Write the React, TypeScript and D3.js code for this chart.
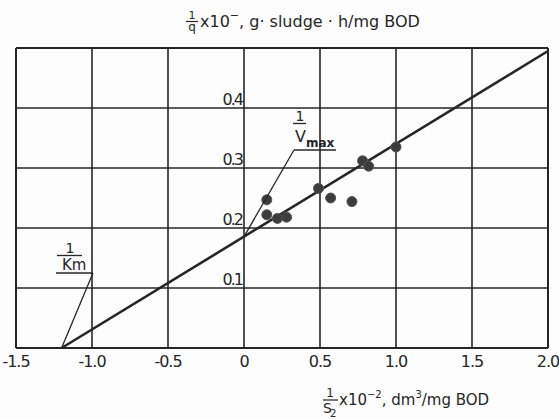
import * as d3 from "d3";
import React, { useEffect, useRef } from "react";

// axis ticks
const xTicks = [-1.5, -1.0, -0.5, 0, 0.5, 1.0, 1.5, 2.0];
const xTickLabels = ["-1.5", "-1.0", "-0.5", "0", "0.5", "1.0", "1.5", "2.0"];
const yTicks = [0.1, 0.2, 0.3, 0.4];
const yTickLabels = ["0.1", "0.2", "0.3", "0.4"];

// measured points: 1/S2 (x 10^-2) vs 1/q
const invS = [1.0, 0.78, 0.82, 0.49, 0.57, 0.71, 0.15, 0.15, 0.22, 0.28];
const invQ = [0.335, 0.312, 0.303, 0.266, 0.25, 0.244, 0.247, 0.222, 0.216, 0.218];

// fitted Lineweaver-Burk line, from -1/Km to the right edge
const fitX = [-1.2, 2.0];
const fitY = [0, 0.495];

const W = 559;
const H = 419;
const FONT = "'DejaVu Sans', sans-serif";
const INK = "#262626";

export default function App() {
  const svgRef = useRef<SVGSVGElement>(null);

  useEffect(() => {
    const svg = d3.select(svgRef.current);
    svg.selectAll("*").remove();

    const x = d3.scaleLinear().domain([-1.5, 2.0]).range([16, 548]);
    const y = d3.scaleLinear().domain([0, 0.5]).range([348, 48]);
    const fit = d3.scaleLinear().domain(fitX).range(fitY);

    svg.append("rect").attr("width", W).attr("height", H).attr("fill", "#fdfdfd");

    // grid
    const g = svg.append("g").attr("stroke", INK).attr("fill", "none");
    g.selectAll("line.vx")
      .data(xTicks)
      .enter()
      .append("line")
      .attr("x1", (d) => x(d))
      .attr("x2", (d) => x(d))
      .attr("y1", y(0.5))
      .attr("y2", y(0))
      .attr("stroke-width", (d, i) => (i === 0 || i === xTicks.length - 1 ? 2 : 1.6));
    g.selectAll("line.hy")
      .data([0, ...yTicks, 0.5])
      .enter()
      .append("line")
      .attr("x1", x(-1.5))
      .attr("x2", x(2.0))
      .attr("y1", (d) => y(d))
      .attr("y2", (d) => y(d))
      .attr("stroke-width", (d) => (d === 0 || d === 0.5 ? 2 : 1.6));

    // x tick labels
    svg.selectAll("text.xt")
      .data(xTicks)
      .enter()
      .append("text")
      .attr("x", (d) => x(d))
      .attr("y", y(0) + 19)
      .attr("text-anchor", "middle")
      .attr("font-family", FONT)
      .attr("font-size", 16)
      .attr("letter-spacing", -1)
      .attr("fill", INK)
      .text((d, i) => xTickLabels[i]);

    // y tick labels, left of the zero line
    svg.selectAll("text.yt")
      .data(yTicks)
      .enter()
      .append("text")
      .attr("x", x(0) - 2)
      .attr("y", (d) => y(d) - 3)
      .attr("text-anchor", "end")
      .attr("font-family", FONT)
      .attr("font-size", 16)
      .attr("letter-spacing", -2)
      .attr("fill", INK)
      .text((d, i) => yTickLabels[i]);

    // regression line
    svg.append("line")
      .attr("x1", x(fitX[0]))
      .attr("y1", y(fitY[0]))
      .attr("x2", x(fitX[1]))
      .attr("y2", y(fitY[1]))
      .attr("stroke", INK)
      .attr("stroke-width", 2.6);

    // points
    svg.selectAll("circle")
      .data(invS)
      .enter()
      .append("circle")
      .attr("cx", (d) => x(d))
      .attr("cy", (d, i) => y(invQ[i]))
      .attr("r", 5)
      .attr("fill", "#3c3c3c")
      .attr("stroke", "#555")
      .attr("stroke-width", 1);

    // 1/Vmax label and leader
    const lead = svg.append("g").attr("stroke", INK).attr("stroke-width", 1.3).attr("fill", "none");
    lead.append("line").attr("x1", 293).attr("x2", 306).attr("y1", 123.5).attr("y2", 123.5);
    lead.append("line").attr("x1", 294).attr("x2", 336).attr("y1", 150).attr("y2", 150);
    lead.append("line").attr("x1", 294).attr("y1", 150).attr("x2", x(0)).attr("y2", y(fit(0)));
    svg.append("text").attr("x", 300).attr("y", 121).attr("text-anchor", "middle")
      .attr("font-family", FONT).attr("font-size", 14).attr("fill", INK).text("1");
    const vm = svg.append("text").attr("x", 295).attr("y", 142)
      .attr("font-family", FONT).attr("font-size", 16).attr("fill", INK);
    vm.append("tspan").text("V");
    vm.append("tspan").attr("dy", 5).attr("font-size", 12).attr("font-weight", "bold").text("max");

    // 1/Km label and leader
    lead.append("line").attr("x1", 57).attr("x2", 82).attr("y1", 255.5).attr("y2", 255.5);
    lead.append("line").attr("x1", 56).attr("x2", 93).attr("y1", 273).attr("y2", 273);
    lead.append("line").attr("x1", 93).attr("y1", 273).attr("x2", x(fitX[0])).attr("y2", y(0));
    svg.append("text").attr("x", 70).attr("y", 253).attr("text-anchor", "middle")
      .attr("font-family", FONT).attr("font-size", 14).attr("fill", INK).text("1");
    svg.append("text").attr("x", 62).attr("y", 270)
      .attr("font-family", FONT).attr("font-size", 15).attr("fill", INK).text("Km");

    // top axis title
    svg.append("text").attr("x", 192).attr("y", 18.5).attr("text-anchor", "middle")
      .attr("font-family", FONT).attr("font-size", 11).attr("fill", INK).text("1");
    svg.append("line").attr("x1", 186).attr("x2", 198).attr("y1", 21.5).attr("y2", 21.5)
      .attr("stroke", INK).attr("stroke-width", 1.2);
    svg.append("text").attr("x", 192).attr("y", 31).attr("text-anchor", "middle")
      .attr("font-family", FONT).attr("font-size", 12).attr("fill", INK).text("q");
    const tt = svg.append("text").attr("x", 200).attr("y", 27)
      .attr("font-family", FONT).attr("font-size", 16).attr("fill", INK);
    tt.append("tspan").text("x10");
    tt.append("tspan").attr("dy", -8).attr("font-size", 11).text("\u2212");
    tt.append("tspan").attr("dy", 8).attr("font-size", 16).text(",  g\u00b7 sludge \u00b7 h/mg BOD");

    // bottom axis title
    svg.append("text").attr("x", 330).attr("y", 397).attr("text-anchor", "middle")
      .attr("font-family", FONT).attr("font-size", 12).attr("fill", INK).text("1");
    svg.append("line").attr("x1", 323).attr("x2", 338).attr("y1", 400).attr("y2", 400)
      .attr("stroke", INK).attr("stroke-width", 1.2);
    const s2 = svg.append("text").attr("x", 323).attr("y", 413)
      .attr("font-family", FONT).attr("font-size", 14).attr("fill", INK);
    s2.append("tspan").text("S");
    s2.append("tspan").attr("dx", -2).attr("dy", 4).attr("font-size", 10).text("2");
    const bt = svg.append("text").attr("x", 339).attr("y", 405)
      .attr("font-family", FONT).attr("font-size", 15).attr("fill", INK);
    bt.append("tspan").text("x10");
    bt.append("tspan").attr("dy", -7).attr("font-size", 10).text("\u22122");
    bt.append("tspan").attr("dy", 7).attr("font-size", 15).text(", dm");
    bt.append("tspan").attr("dy", -7).attr("font-size", 10).text("3");
    bt.append("tspan").attr("dy", 7).attr("font-size", 15).text("/mg BOD");
  }, []);

  return (
    <svg
      ref={svgRef}
      width={W}
      height={H}
      style={{ position: "absolute", left: 0, top: 0 }}
    ></svg>
  );
}
